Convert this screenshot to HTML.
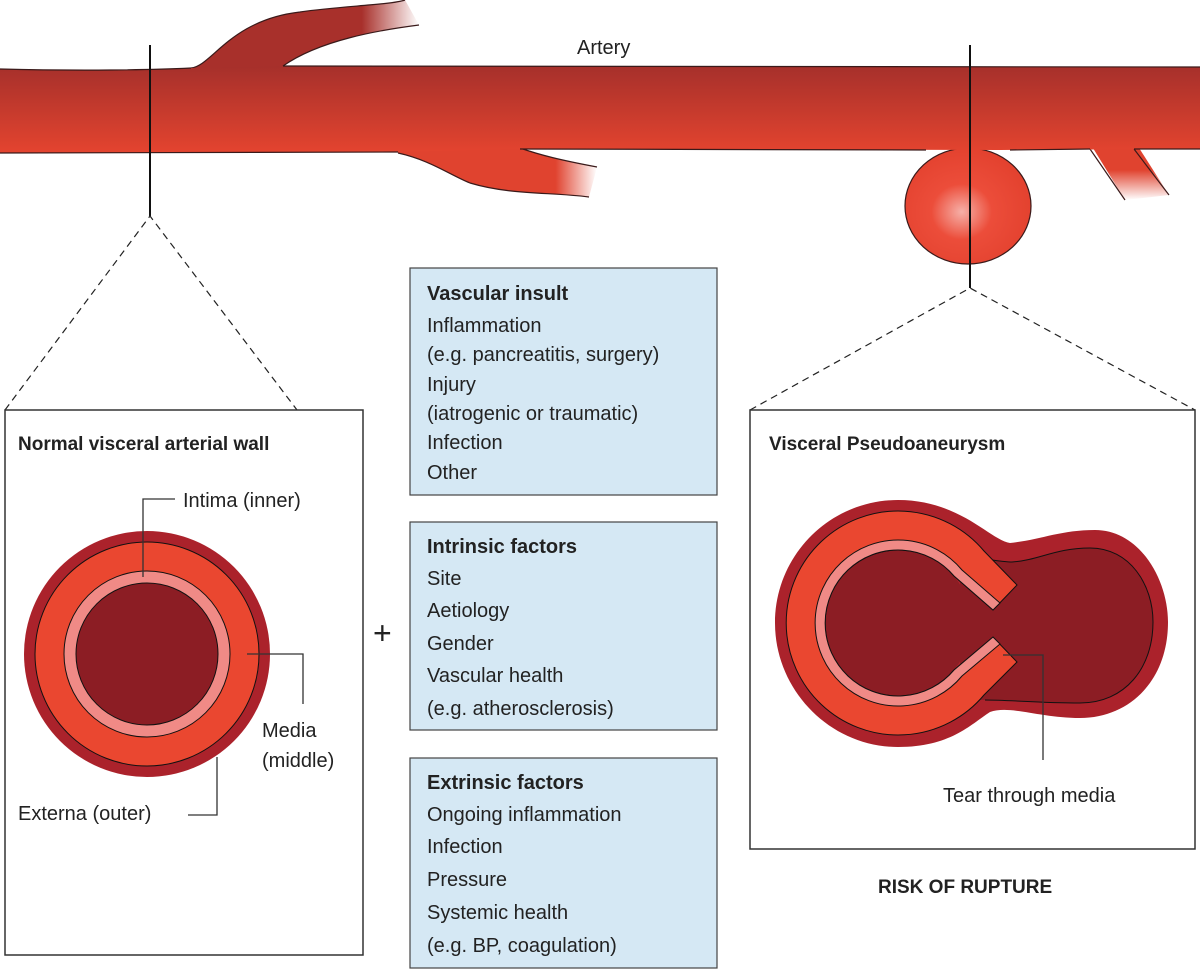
<!DOCTYPE html>
<html><head><meta charset="utf-8"><style>
body{margin:0;background:#fff;}
svg{display:block;}
text{font-family:"Liberation Sans",sans-serif;fill:#222;}
</style></head><body>
<svg width="1200" height="969" viewBox="0 0 1200 969" xmlns="http://www.w3.org/2000/svg">
<defs>
<linearGradient id="ag" x1="0" y1="0" x2="0" y2="1">
<stop offset="0" stop-color="#a6302b"/><stop offset="1" stop-color="#e4442f"/></linearGradient>
<linearGradient id="b1" x1="0" y1="0" x2="1" y2="0">
<stop offset="0.75" stop-color="#a8302b"/><stop offset="1" stop-color="#a8302b" stop-opacity="0"/></linearGradient>
<linearGradient id="b2" x1="0" y1="0" x2="1" y2="0">
<stop offset="0.8" stop-color="#e0432f"/><stop offset="1" stop-color="#e0432f" stop-opacity="0"/></linearGradient>
<linearGradient id="b3" x1="0" y1="0" x2="0" y2="1">
<stop offset="0.5" stop-color="#e0432f"/><stop offset="1" stop-color="#e0432f" stop-opacity="0"/></linearGradient>
<radialGradient id="sg" cx="0.45" cy="0.55" r="0.6">
<stop offset="0" stop-color="#f6b0a8"/><stop offset="0.4" stop-color="#ec4d3a"/><stop offset="1" stop-color="#e2402d"/></radialGradient>
</defs>
<!-- branches -->
<path d="M190,80 L191,68 C212,66 230,20 300,12 C340,6 390,5 405,0 L419,25 C380,30 320,40 283,66 L283,80 Z" fill="url(#b1)"/>
<path d="M191,68 C212,66 230,20 300,12 C340,6 390,5 405,0 M419,25 C380,30 320,40 283,66" fill="none" stroke="#3a1a1a" stroke-width="1.2"/>
<path d="M390,140 L398,153 C430,160 450,175 470,183 C510,195 550,192 589,197 L597,167 C560,160 540,155 520,148 L520,140 Z" fill="url(#b2)"/>
<path d="M398,153 C430,160 450,175 470,183 C510,195 550,192 589,197 M597,167 C560,160 540,155 520,148" fill="none" stroke="#3a1a1a" stroke-width="1.2"/>
<path d="M1088,140 L1125,200 L1169,195 L1134,140 Z" fill="url(#b3)"/>
<path d="M1090,149 L1125,200 M1134,149 L1169,195" fill="none" stroke="#3a1a1a" stroke-width="1.2"/>
<!-- sphere -->
<ellipse cx="968" cy="206" rx="63" ry="58" fill="url(#sg)" stroke="#3a1a1a" stroke-width="1.2"/>
<!-- main artery -->
<path d="M0,69 C80,71 150,70 191,68 L283,66 L1200,67 L1200,149 L1000,150 L520,149 L398,152 L0,153 Z" fill="url(#ag)"/>
<path d="M0,69 C80,71 150,70 191,68 M283,66 L1200,67" fill="none" stroke="#3a1a1a" stroke-width="1.2"/>
<path d="M0,153 L398,152 M520,149 L926,150 M1010,150 L1090,149 M1134,149 L1200,149" fill="none" stroke="#3a1a1a" stroke-width="1.2"/>
<text x="577" y="54" font-size="20">Artery</text>
<!-- vertical lines -->
<line x1="150" y1="45" x2="150" y2="216" stroke="#111" stroke-width="2"/>
<line x1="970" y1="45" x2="970" y2="288" stroke="#111" stroke-width="2"/>
<g stroke="#222" stroke-width="1.2" stroke-dasharray="7,5" fill="none">
<path d="M5,410 L150,216 L297,410"/>
<path d="M750,410 L970,288 L1195,410"/>
</g>
<!-- boxes -->
<rect x="5" y="410" width="358" height="545" fill="#fff" stroke="#333" stroke-width="1.5"/>
<rect x="750" y="410" width="445" height="439" fill="#fff" stroke="#333" stroke-width="1.5"/>
<text x="18" y="450" font-size="19" font-weight="bold">Normal visceral arterial wall</text>
<text x="769" y="450" font-size="19" font-weight="bold">Visceral Pseudoaneurysm</text>
<!-- normal circle -->
<circle cx="147" cy="654" r="123" fill="#ab222b"/>
<circle cx="147" cy="654" r="112" fill="#ea4730" stroke="#111" stroke-width="1"/>
<circle cx="147" cy="654" r="83" fill="#f08a86" stroke="#111" stroke-width="1"/>
<circle cx="147" cy="654" r="71" fill="#8c1d24" stroke="#111" stroke-width="1"/>
<g stroke="#333" stroke-width="1.3" fill="none">
<path d="M143,577 L143,499 L175,499"/>
<path d="M247,654 L303,654 L303,704"/>
<path d="M217,757 L217,815 L188,815"/>
</g>
<text x="183" y="507" font-size="20">Intima (inner)</text>
<text x="262" y="737" font-size="20">Media</text>
<text x="262" y="767" font-size="20">(middle)</text>
<text x="18" y="820" font-size="20">Externa (outer)</text>
<text x="373" y="644" font-size="32">+</text>
<!-- blue boxes -->
<g fill="#d5e8f4" stroke="#444" stroke-width="1.2">
<rect x="410" y="268" width="307" height="227"/>
<rect x="410" y="522" width="307" height="208"/>
<rect x="410" y="758" width="307" height="210"/>
</g>
<g font-size="20">
<text x="427" y="300" font-weight="bold">Vascular insult</text>
<text x="427" y="332">Inflammation</text>
<text x="427" y="361">(e.g. pancreatitis, surgery)</text>
<text x="427" y="391">Injury</text>
<text x="427" y="420">(iatrogenic or traumatic)</text>
<text x="427" y="449">Infection</text>
<text x="427" y="479">Other</text>
<text x="427" y="553" font-weight="bold">Intrinsic factors</text>
<text x="427" y="585">Site</text>
<text x="427" y="617">Aetiology</text>
<text x="427" y="650">Gender</text>
<text x="427" y="682">Vascular health</text>
<text x="427" y="715">(e.g. atherosclerosis)</text>
<text x="427" y="789" font-weight="bold">Extrinsic factors</text>
<text x="427" y="821">Ongoing inflammation</text>
<text x="427" y="853">Infection</text>
<text x="427" y="886">Pressure</text>
<text x="427" y="919">Systemic health</text>
<text x="427" y="952">(e.g. BP, coagulation)</text>
</g>
<!-- pseudoaneurysm -->
<path d="M898,500 C960,500 990,540 1010,543 C1040,540 1060,530 1095,530 C1140,530 1168,580 1168,622 C1168,680 1130,718 1080,718 C1040,718 1010,705 990,712 C970,725 950,747 898,747 C830,747 775,690 775,623 C775,555 830,500 898,500 Z" fill="#ab222b"/>
<path d="M960,560 C990,558 1000,562 1012,562 C1040,560 1055,548 1090,548 C1130,548 1153,585 1153,622 C1153,668 1125,703 1080,703 C1040,703 1010,700 985,700 L960,700 Z" fill="#8c1d24"/>
<path d="M975,557 C1000,562 1012,562 1012,562 C1040,560 1055,548 1090,548 C1130,548 1153,585 1153,622 C1153,668 1125,703 1080,703 C1040,703 1010,700 985,700" fill="none" stroke="#111" stroke-width="1"/>
<circle cx="898" cy="623" r="73" fill="#8c1d24"/>
<rect x="940" y="585" width="70" height="76" fill="#8c1d24"/>
<path d="M984,551 A112,112 0 1,0 984,695 L1017,662 L993,637 L954,670 A73,73 0 1,1 954,576 L993,610 L1017,585 Z" fill="#ea4730" stroke="#111" stroke-width="1"/>
<path d="M962,570 A83,83 0 1,0 962,676 L1000,644 L993,637 L954,670 A73,73 0 1,1 954,576 L993,610 L1000,603 Z" fill="#f08a86" stroke="#111" stroke-width="1"/>
<path d="M1003,655 L1043,655 L1043,760" fill="none" stroke="#333" stroke-width="1.3"/>
<text x="943" y="802" font-size="20">Tear through media</text>
<text x="878" y="893" font-size="19" font-weight="bold">RISK OF RUPTURE</text>
</svg>
</body></html>
